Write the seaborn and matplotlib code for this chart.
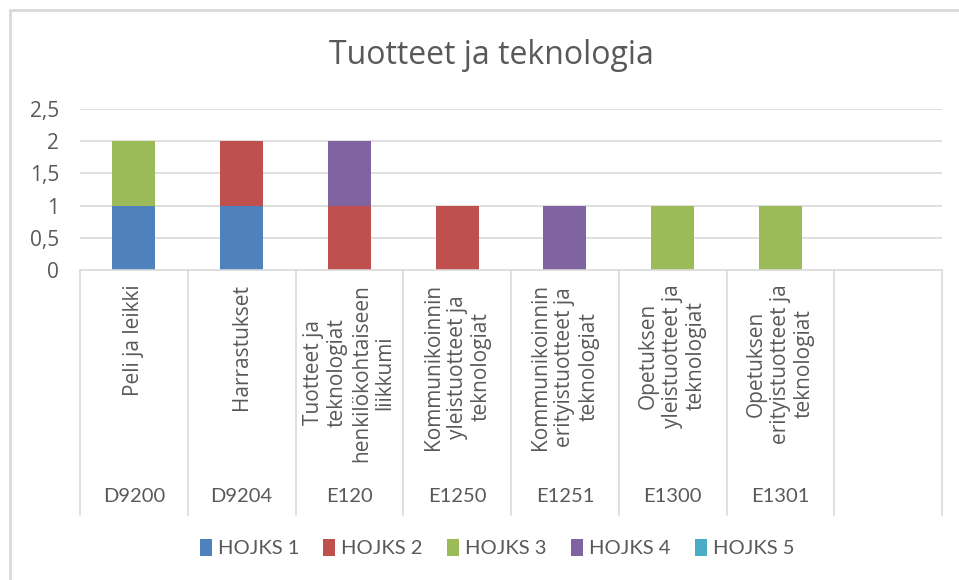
import matplotlib.pyplot as plt
import matplotlib.transforms as mtransforms
import numpy as np
import pandas as pd
import seaborn as sns
from matplotlib.lines import Line2D
from matplotlib.patches import Patch

# chart data
codes = ["D9200", "D9204", "E120", "E1250", "E1251", "E1300", "E1301", " "]
names = [
    "Peli ja leikki",
    "Harrastukset",
    "Tuotteet ja\nteknologiat\nhenkilökohtaiseen\nliikkumi",
    "Kommunikoinnin\nyleistuotteet ja\nteknologiat",
    "Kommunikoinnin\nerityistuotteet ja\nteknologiat",
    "Opetuksen\nyleistuotteet ja\nteknologiat",
    "Opetuksen\nerityistuotteet ja\nteknologiat",
    "",
]
series = ["HOJKS 1", "HOJKS 2", "HOJKS 3", "HOJKS 4", "HOJKS 5"]
hojks1 = [1, 1, 0, 0, 0, 0, 0, 0]
hojks2 = [0, 1, 1, 1, 0, 0, 0, 0]
hojks3 = [1, 0, 0, 0, 0, 1, 1, 0]
hojks4 = [0, 0, 1, 0, 1, 0, 0, 0]
hojks5 = [0, 0, 0, 0, 0, 0, 0, 0]
colors = ["#4F81BD", "#C0504D", "#9BBB59", "#8064A2", "#4BACC6"]

title = "Tuotteet ja teknologia"
text_col = "#595959"
grid_col = "#D9D9D9"

sns.set_theme(style="white")
plt.rcParams["font.family"] = ["Open Sans", "DejaVu Sans"]

fig = plt.figure(figsize=(9.59, 5.8), dpi=100)
ax = fig.add_axes([80 / 959, 1 - 270 / 580, (942 - 80) / 959, 161 / 580])

values = [hojks1, hojks2, hojks3, hojks4, hojks5]
bottom = np.zeros(len(codes))
for name, vals, col in zip(series, values, colors):
    df = pd.DataFrame({"code": codes, "value": vals})
    sns.barplot(
        data=df, x="code", y="value", order=codes, color=col,
        width=0.4, bottom=bottom, ax=ax, linewidth=0, saturation=1,
        errorbar=None,
    )
    bottom = bottom + np.array(vals)

ax.set_xlim(-0.5, len(codes) - 0.5)
ax.set_ylim(0, 2.5)
ax.set_yticks(np.arange(0, 2.51, 0.5))
ax.set_yticklabels(["0", "0,5", "1", "1,5", "2", "2,5"], fontsize=15, color=text_col)
ax.tick_params(axis="y", length=0, pad=15)
ax.set_xticks([])
ax.set_xlabel("")
ax.set_ylabel("")
for s in ax.spines.values():
    s.set_visible(False)
ax.grid(False)
for yv in np.arange(0.5, 2.51, 0.5):
    ax.axhline(yv, color=grid_col, lw=1.2, zorder=0)
ax.axhline(0, color=grid_col, lw=1.2, zorder=3, clip_on=False)

# category axis with two levels
trans = mtransforms.blended_transform_factory(ax.transData, ax.transAxes)
for i in range(len(codes) + 1):
    ax.add_line(Line2D([i - 0.5, i - 0.5], [0, -245 / 161], transform=trans,
                       color=grid_col, lw=1.2, clip_on=False))
for i, (code, name) in enumerate(zip(codes, names)):
    ax.text(i, -14 / 161, name, transform=trans, rotation=90, ha="center",
            va="top", multialignment="center", fontsize=15, color=text_col,
            linespacing=1.18)
    ax.text(i, -227 / 161, code.strip(), transform=trans, ha="center",
            va="center", fontsize=14.5, color=text_col, family=["Lato", "DejaVu Sans"])

fig.text(491 / 959, 1 - 56 / 580, title, ha="center", va="center",
         fontsize=23, color=text_col)

handles = [Patch(facecolor=c, edgecolor="none") for c in colors]
fig.legend(handles, series, loc="center", bbox_to_anchor=(497 / 959, 1 - 548 / 580),
           ncol=5, frameon=False, handlelength=0.6, handleheight=0.9,
           handletextpad=0.3, columnspacing=1.2,
           prop={"family": ["Lato", "DejaVu Sans"], "size": 14.5},
           labelcolor=text_col)

# chart area border (left and top visible)
fig.add_artist(Line2D([10 / 959, 10 / 959], [0, 1 - 10 / 580], transform=fig.transFigure,
                      color=grid_col, lw=2))
fig.add_artist(Line2D([10 / 959, 1], [1 - 10 / 580, 1 - 10 / 580], transform=fig.transFigure,
                      color=grid_col, lw=2))

fig.savefig("out.png", dpi=100)
